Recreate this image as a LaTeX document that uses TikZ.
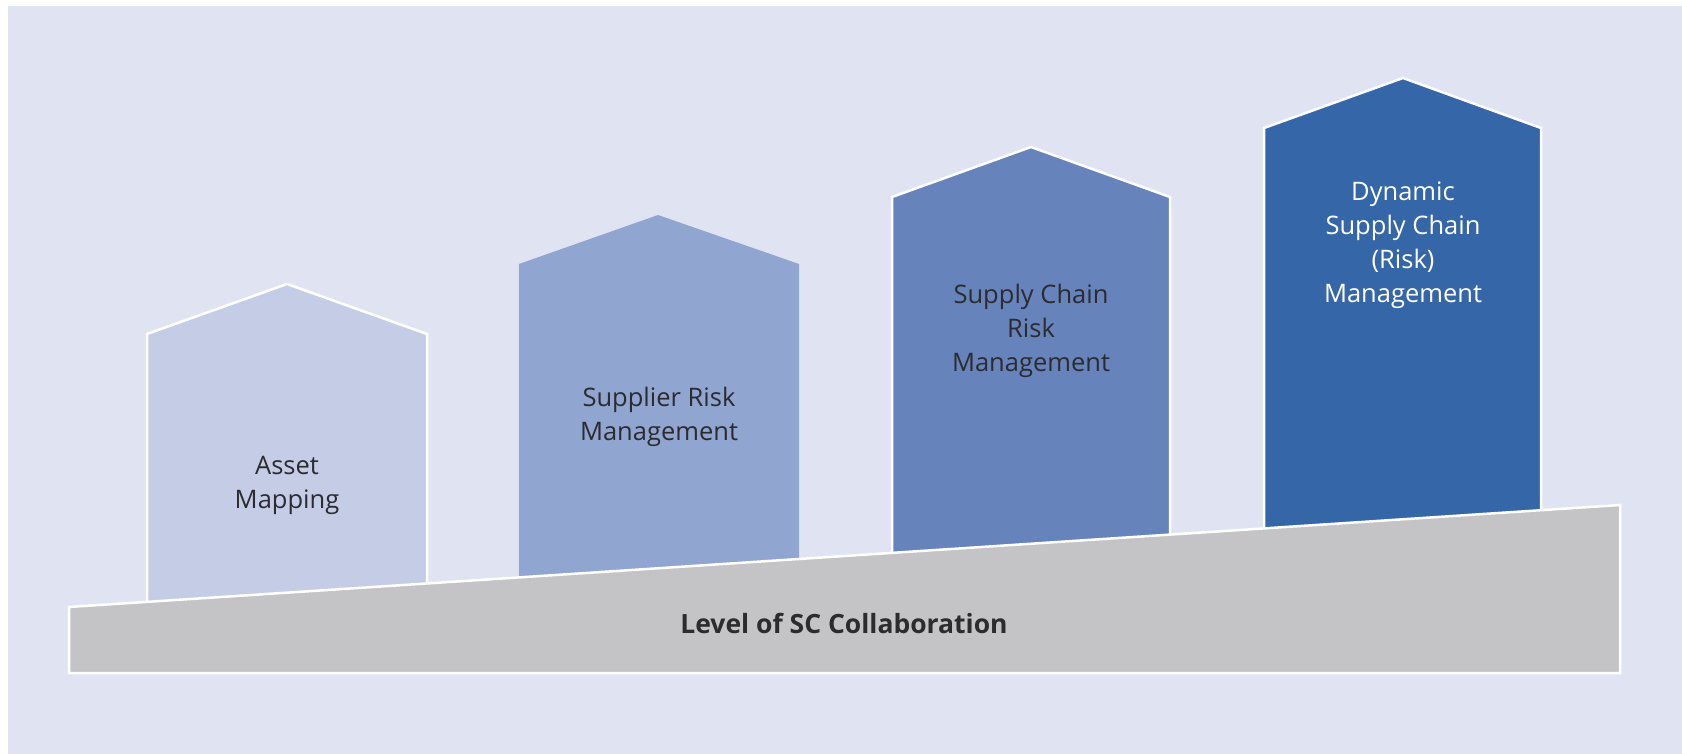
\documentclass[tikz,border=0pt]{standalone}
\usepackage{fontspec}
\setmainfont{Open Sans}
\definecolor{bgc}{HTML}{E0E4F2}
\definecolor{hA}{HTML}{C5CCE6}
\definecolor{hB}{HTML}{90A5D0}
\definecolor{hC}{HTML}{6683BC}
\definecolor{hD}{HTML}{3567A8}
\definecolor{barc}{HTML}{C4C4C6}
\definecolor{txt}{HTML}{2B2B30}
\begin{document}
\begin{tikzpicture}[x=1pt,y=-1pt,
  outl/.style={draw=white,line width=2.5pt,line join=miter},
  htext/.style={align=center,text=txt,font=\fontsize{25.5}{34}\selectfont,inner sep=0pt},
  blabel/.style={text=txt,font=\fontsize{26.5}{30}\selectfont\bfseries,inner sep=0pt}]
\useasboundingbox (0,0) rectangle (1682,754);
\fill[bgc] (8,6) rectangle (1682,754);
% houses
\path[fill=hA,outl] (147,640) -- (147,334) -- (287,284) -- (427,334) -- (427,640) -- cycle;
\path[fill=hB] (519,640) -- (519,264) -- (658,215) -- (799,264) -- (799,640) -- cycle;
\path[fill=hC,outl] (892,640) -- (892,197) -- (1031,147) -- (1170,197) -- (1170,640) -- cycle;
\path[fill=hD,outl] (1264,640) -- (1264,128) -- (1403,78) -- (1541,128) -- (1541,640) -- cycle;
% base bar
\path[fill=barc,outl] (69,607) -- (1620,505) -- (1620,673) -- (69,673) -- cycle;
% texts
\node[htext] (t1) at (287,485) {Asset\\Mapping};
\node[htext] (t2) at (659,417) {Supplier Risk\\Management};
\node[htext] (t3) at (1031,331) {Supply Chain\\Risk\\Management};
\node[htext,text=white] (t4) at (1403,245) {Dynamic\\Supply Chain\\(Risk)\\Management};
\node[blabel] (lbl) at (844,623) {Level of SC Collaboration};
\end{tikzpicture}
\end{document}
